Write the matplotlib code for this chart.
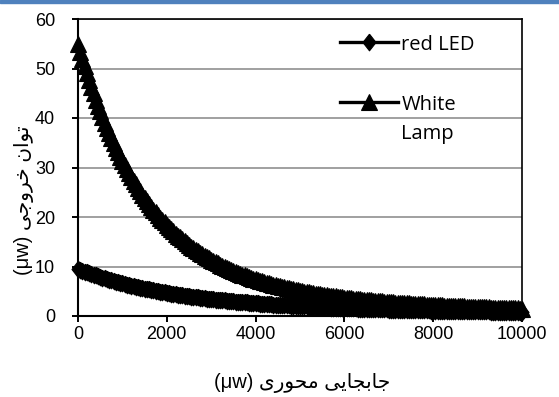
import matplotlib
matplotlib.use("Agg")
import matplotlib.pyplot as plt
from matplotlib.patches import Rectangle

# ---------------- data ----------------
x_values = list(range(0, 10001, 50))

red_led = [
    9.50, 9.32, 9.15, 8.98, 8.81, 8.65, 8.49, 8.34, 8.19, 8.04,
    7.89, 7.75, 7.61, 7.47, 7.34, 7.21, 7.08, 6.95, 6.83, 6.71,
    6.59, 6.47, 6.36, 6.25, 6.15, 6.04, 5.93, 5.83, 5.73, 5.63,
    5.54, 5.45, 5.36, 5.27, 5.18, 5.09, 5.01, 4.92, 4.84, 4.76,
    4.69, 4.61, 4.54, 4.46, 4.39, 4.32, 4.25, 4.18, 4.12, 4.05,
    3.99, 3.93, 3.87, 3.81, 3.75, 3.69, 3.64, 3.58, 3.53, 3.48,
    3.43, 3.38, 3.33, 3.28, 3.23, 3.18, 3.14, 3.09, 3.05, 3.00,
    2.96, 2.92, 2.88, 2.84, 2.80, 2.76, 2.73, 2.69, 2.65, 2.61,
    2.58, 2.54, 2.51, 2.48, 2.45, 2.41, 2.38, 2.35, 2.32, 2.29,
    2.27, 2.24, 2.21, 2.18, 2.16, 2.13, 2.10, 2.07, 2.05, 2.02,
    2.00, 1.98, 1.96, 1.93, 1.91, 1.89, 1.87, 1.85, 1.83, 1.81,
    1.79, 1.77, 1.75, 1.73, 1.71, 1.69, 1.67, 1.65, 1.64, 1.62,
    1.60, 1.58, 1.57, 1.55, 1.54, 1.52, 1.51, 1.49, 1.48, 1.46,
    1.45, 1.43, 1.42, 1.40, 1.39, 1.38, 1.37, 1.35, 1.34, 1.32,
    1.31, 1.30, 1.29, 1.28, 1.27, 1.26, 1.25, 1.23, 1.22, 1.21,
    1.20, 1.19, 1.18, 1.17, 1.16, 1.15, 1.14, 1.13, 1.12, 1.11,
    1.10, 1.09, 1.09, 1.08, 1.07, 1.06, 1.05, 1.04, 1.04, 1.03,
    1.02, 1.01, 1.00, 0.99, 0.99, 0.98, 0.97, 0.96, 0.96, 0.95,
    0.94, 0.93, 0.93, 0.92, 0.92, 0.91, 0.90, 0.89, 0.89, 0.88,
    0.88, 0.87, 0.87, 0.86, 0.85, 0.84, 0.84, 0.83, 0.83, 0.82,
    0.82,
]

white_lamp = [
    55.00, 53.43, 51.91, 50.44, 49.01, 47.63, 46.29, 44.99, 43.72, 42.50,
    41.32, 40.16, 39.05, 37.96, 36.92, 35.90, 34.92, 33.96, 33.04, 32.14,
    31.27, 30.42, 29.61, 28.81, 28.05, 27.29, 26.57, 25.86, 25.19, 24.52,
    23.88, 23.25, 22.66, 22.07, 21.50, 20.95, 20.42, 19.89, 19.39, 18.90,
    18.43, 17.96, 17.52, 17.08, 16.66, 16.25, 15.86, 15.47, 15.10, 14.73,
    14.38, 14.04, 13.71, 13.38, 13.07, 12.76, 12.47, 12.18, 11.90, 11.63,
    11.37, 11.11, 10.86, 10.62, 10.39, 10.16, 9.94, 9.72, 9.51, 9.31,
    9.11, 8.92, 8.73, 8.55, 8.37, 8.20, 8.03, 7.87, 7.71, 7.55,
    7.40, 7.25, 7.11, 6.97, 6.84, 6.71, 6.58, 6.45, 6.33, 6.21,
    6.10, 5.99, 5.88, 5.77, 5.67, 5.57, 5.47, 5.37, 5.28, 5.19,
    5.10, 5.01, 4.93, 4.85, 4.77, 4.69, 4.61, 4.53, 4.46, 4.39,
    4.32, 4.25, 4.19, 4.12, 4.06, 4.00, 3.94, 3.88, 3.82, 3.76,
    3.71, 3.66, 3.61, 3.55, 3.50, 3.45, 3.41, 3.36, 3.31, 3.26,
    3.22, 3.18, 3.14, 3.10, 3.06, 3.02, 2.98, 2.94, 2.90, 2.86,
    2.83, 2.79, 2.76, 2.72, 2.69, 2.66, 2.63, 2.59, 2.56, 2.53,
    2.50, 2.47, 2.45, 2.42, 2.39, 2.36, 2.34, 2.31, 2.28, 2.25,
    2.23, 2.20, 2.18, 2.16, 2.14, 2.11, 2.09, 2.07, 2.05, 2.02,
    2.00, 1.98, 1.96, 1.94, 1.92, 1.90, 1.88, 1.86, 1.85, 1.83,
    1.81, 1.79, 1.77, 1.75, 1.74, 1.72, 1.71, 1.69, 1.67, 1.65,
    1.64, 1.62, 1.61, 1.59, 1.58, 1.56, 1.55, 1.53, 1.52, 1.50,
    1.49,
]

series_labels = ["red LED", "White\nLamp"]
x_ticks = [0, 2000, 4000, 6000, 8000, 10000]
y_ticks = [0, 10, 20, 30, 40, 50, 60]
xlabel_persian = "جابجایی محوری"
ylabel_persian = "توان خروجی"
unit_text = "(μw)"

# ---------------- minimal Persian shaping (presentation forms) ----------------
FORMS = {  # isolated, final, initial, medial
    "ا": ("\uFE8D", "\uFE8E", None, None),
    "ب": ("\uFE8F", "\uFE90", "\uFE91", "\uFE92"),
    "ت": ("\uFE95", "\uFE96", "\uFE97", "\uFE98"),
    "ج": ("\uFE9D", "\uFE9E", "\uFE9F", "\uFEA0"),
    "ح": ("\uFEA1", "\uFEA2", "\uFEA3", "\uFEA4"),
    "خ": ("\uFEA5", "\uFEA6", "\uFEA7", "\uFEA8"),
    "ر": ("\uFEAD", "\uFEAE", None, None),
    "م": ("\uFEE1", "\uFEE2", "\uFEE3", "\uFEE4"),
    "ن": ("\uFEE5", "\uFEE6", "\uFEE7", "\uFEE8"),
    "و": ("\uFEED", "\uFEEE", None, None),
    "ی": ("\uFBFC", "\uFBFD", "\uFBFE", "\uFBFF"),
}


def shape_rtl(text):
    out = []
    for i, ch in enumerate(text):
        if ch not in FORMS:
            out.append(ch)
            continue
        prev = text[i - 1] if i > 0 else ""
        nxt = text[i + 1] if i + 1 < len(text) else ""
        join_prev = prev in FORMS and FORMS[prev][2] is not None
        join_next = FORMS[ch][2] is not None and nxt in FORMS
        iso, fin, ini, med = FORMS[ch]
        if join_prev and join_next:
            out.append(med)
        elif join_prev:
            out.append(fin)
        elif join_next:
            out.append(ini)
        else:
            out.append(iso)
    return "".join(reversed(out))


xlabel_visual = unit_text + " " + shape_rtl(xlabel_persian)
ylabel_visual = unit_text + " " + shape_rtl(ylabel_persian)

# ---------------- figure ----------------
W, H = 559, 397
fig = plt.figure(figsize=(W / 100, H / 100), dpi=100)
fig.patches.append(Rectangle((0, 1 - 3 / H), 1, 3 / H, transform=fig.transFigure,
                             color="#4F81BD", zorder=5))

L, R, T, B = 78, 522, 19, 316
ax = fig.add_axes([L / W, (H - B) / H, (R - L) / W, (B - T) / H])

diamond = [(0, 1), (0.78, 0), (0, -1), (-0.78, 0), (0, 1)]

ax.plot(x_values, red_led, color="black", lw=2.4, marker=diamond, ms=12,
        mfc="black", mec="black", mew=0.8, clip_on=False, zorder=3,
        label=series_labels[0])
ax.plot(x_values, white_lamp, color="black", lw=2.4, marker="^", ms=12,
        mfc="black", mec="black", mew=0.8, clip_on=False, zorder=3,
        label=series_labels[1])

ax.set_xlim(0, 10000)
ax.set_ylim(0, 60)
ax.set_xticks(x_ticks)
ax.set_yticks(y_ticks)
ax.yaxis.grid(True, color="#868686", lw=1.1)
ax.set_axisbelow(True)

tick_font = "Liberation Sans"
ax.tick_params(axis="both", direction="out", length=4, width=1.4, labelsize=13,
               color="black")
ax.tick_params(axis="y", pad=12.5)
ax.tick_params(axis="x", pad=3)
for lab in ax.get_xticklabels() + ax.get_yticklabels():
    lab.set_fontfamily(tick_font)

for side in ("left", "bottom"):
    ax.spines[side].set_linewidth(1.5)
for side in ("top", "right"):
    ax.spines[side].set_linewidth(1.2)
for sp in ax.spines.values():
    sp.set_color("black")

label_family = ["Liberation Sans", "DejaVu Sans"]
ax.set_xlabel(xlabel_visual, fontsize=14.5, family=label_family, va="center", ha="center")
ax.xaxis.set_label_coords((302 - L) / (R - L), (B - 383) / (B - T))
ax.set_ylabel(ylabel_visual, fontsize=14.5, family=label_family, va="center", ha="center")
ax.yaxis.set_label_coords((24 - L) / (R - L), (B - 200) / (B - T))

leg = ax.legend(loc="upper left",
                bbox_to_anchor=((340 - L) / (R - L), (B - 35) / (B - T)),
                frameon=False, borderpad=0, borderaxespad=0,
                handlelength=2.9, handletextpad=0.15, labelspacing=2.0,
                prop={"family": "Open Sans", "size": 14.5})
for col in leg._legend_handle_box.get_children():
    for item in col.get_children():
        item.align = "top"
leg.texts[1].set_linespacing(1.55)

fig.savefig("out.png", dpi=100)
